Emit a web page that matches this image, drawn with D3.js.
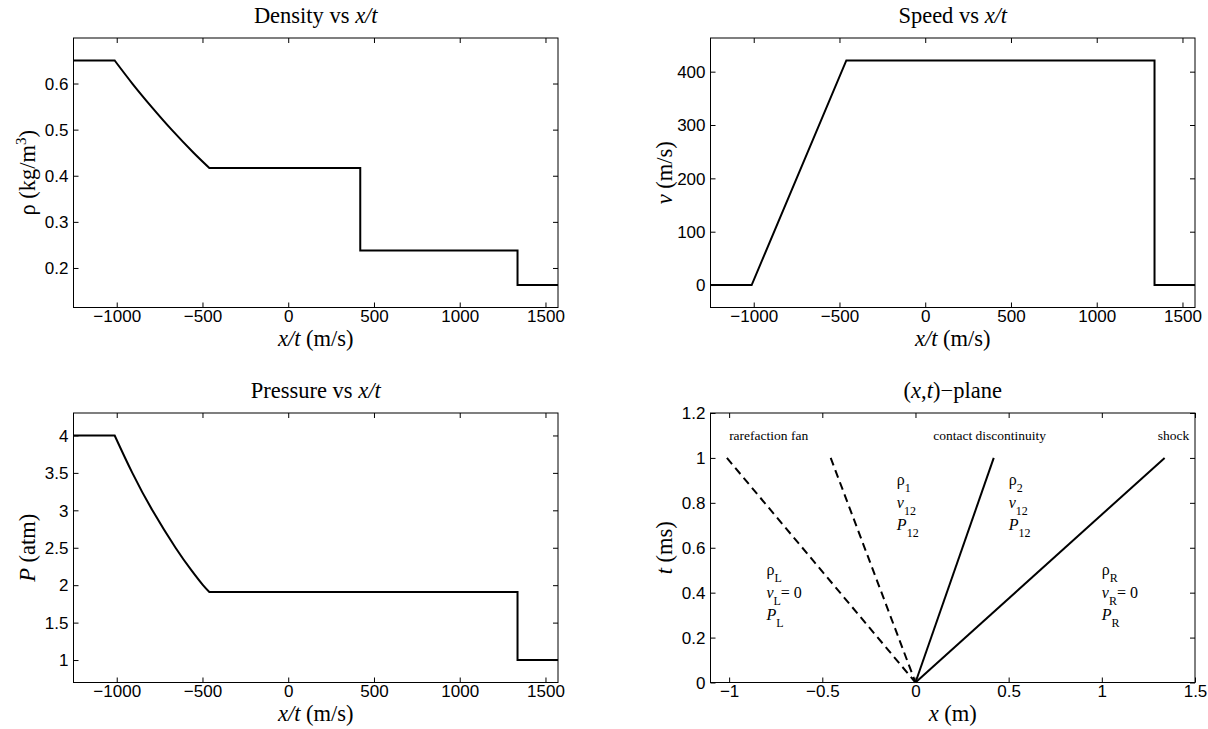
<!DOCTYPE html>
<html>
<head>
<meta charset="utf-8">
<script src="https://cdn.jsdelivr.net/npm/d3@7"></script>
<style>
  body { margin: 0; background: #fff; }
  svg { display: block; }
  .tick text { font-family: "Liberation Sans", Arial, Helvetica, sans-serif; font-size: 17px; fill: #000; }
  .tick line { stroke: #000; stroke-width: 1; }
  .serif { font-family: "Liberation Serif", "Times New Roman", Times, serif; fill: #000; }
</style>
</head>
<body>
<svg id="fig" width="1208" height="729"></svg>
<script>
// ---- data ----
// self-similar coordinate x/t in m/s
var xiRange = [-1252, 1573];
var xiTicks = [-1000, -500, 0, 500, 1000, 1500];

// density (points 1..6 lie on the rarefaction fan)
var rhoXi  = [-1252, -1012, -909, -798, -680, -552, -460, 420, 420, 1337, 1337, 1573];
var rhoVal = [0.65, 0.65, 0.60, 0.55, 0.50, 0.45, 0.417, 0.417, 0.238, 0.238, 0.163, 0.163];
var rhoFan = [1, 6];
var rhoTicks = [0.2, 0.3, 0.4, 0.5, 0.6];

// speed
var velXi  = [-1252, -1012, -460, 1337, 1337, 1573];
var velVal = [0, 0, 421, 421, 0, 0];
var velFan = [1, 2];
var velTicks = [0, 100, 200, 300, 400];

// pressure (points 1..7 lie on the rarefaction fan)
var presXi  = [-1252, -1012, -909, -792, -657, -565, -497, -460, 1337, 1337, 1573];
var presVal = [4.0, 4.0, 3.5, 3.0, 2.5, 2.2, 2.0, 1.91, 1.91, 1.0, 1.0];
var presFan = [1, 7];
var presTicks = [1, 1.5, 2, 2.5, 3, 3.5, 4];

// (x,t)-plane: wave positions (m) at t = 1 ms
var waveX      = [-1.012, -0.455, 0.42, 1.337];
var waveDashed = [true, true, false, false];
var planeXTicks = [-1, -0.5, 0, 0.5, 1, 1.5];
var planeTTicks = [0, 0.2, 0.4, 0.6, 0.8, 1, 1.2];

// wave names and region state labels (x in m, t in ms)
var waveNames = ["rarefaction fan", "contact discontinuity", "shock"];
var waveNameX = [-1.0, 0.095, 1.3];
var stateX    = [-0.8, -0.1, 0.5, 1.0];
var stateT    = [[0.5, 0.4, 0.3], [0.9, 0.8, 0.7], [0.9, 0.8, 0.7], [0.5, 0.4, 0.3]];
var stateSubs = [["L", "L", "L"], ["1", "12", "12"], ["2", "12", "12"], ["R", "R", "R"]];
var stateTail = [["", "= 0", ""], ["", "", ""], ["", "", ""], ["", "= 0", ""]];

// ---- layout ----
var svg = d3.select("#fig");
var W = 484.5, H = 269.5;
var colLeft = [73.5, 710.5], rowTop = [38, 413];
var labelSize = "22.5px";

function fmt(d) { return String(d).replace("-", "\u2212"); }

function richText(sel, parts) {
  parts.forEach(function(p) {
    var t = sel.append("tspan").text(p[0]);
    if (p[1] === "i") t.style("font-style", "italic");
    if (p[2]) t.attr("dy", p[2]);
    if (p[3]) t.style("font-size", p[3]);
  });
  return sel;
}

function panel(col, row, xDom, yDom, xTicks, yTicks) {
  var g = svg.append("g").attr("transform", "translate(" + colLeft[col] + "," + rowTop[row] + ")");
  var x = d3.scaleLinear().domain(xDom).range([0, W]);
  var y = d3.scaleLinear().domain(yDom).range([H, 0]);

  g.append("g").attr("transform", "translate(0," + H + ")")
    .call(d3.axisBottom(x).tickValues(xTicks).tickSize(-5).tickPadding(9).tickFormat(fmt));
  g.append("g")
    .call(d3.axisTop(x).tickValues(xTicks).tickSize(-5).tickFormat(""));
  g.append("g")
    .call(d3.axisLeft(y).tickValues(yTicks).tickSize(-5).tickPadding(5).tickFormat(fmt));
  g.append("g").attr("transform", "translate(" + W + ",0)")
    .call(d3.axisRight(y).tickValues(yTicks).tickSize(-5).tickFormat(""));
  g.selectAll(".domain").remove();

  g.append("rect").attr("width", W).attr("height", H)
    .attr("fill", "none").attr("stroke", "#000").attr("stroke-width", 1);
  return { g: g, x: x, y: y };
}

function title(p, parts) {
  richText(p.g.append("text").attr("class", "serif")
    .attr("x", W / 2).attr("y", -15.5).attr("text-anchor", "middle")
    .style("font-size", labelSize), parts);
}
function xlabel(p, parts) {
  richText(p.g.append("text").attr("class", "serif")
    .attr("x", W / 2).attr("y", H + 38).attr("text-anchor", "middle")
    .style("font-size", labelSize), parts);
}
function ylabel(p, parts) {
  richText(p.g.append("text").attr("class", "serif")
    .attr("transform", "translate(-39," + (H / 2) + ") rotate(-90)")
    .attr("text-anchor", "middle")
    .style("font-size", labelSize), parts);
}

function pad(vals) {
  var lo = d3.min(vals), hi = d3.max(vals), r = hi - lo;
  return [lo - 0.1 * r, hi + 0.1 * r];
}

// straight segments, but the rarefaction fan part drawn as a smooth curve
function curve(p, xs, ys, fan) {
  var pts = d3.zip(xs, ys);
  var lin = d3.line().x(function(d) { return p.x(d[0]); }).y(function(d) { return p.y(d[1]); });
  var smooth = d3.line().curve(d3.curveNatural)
    .x(function(d) { return p.x(d[0]); }).y(function(d) { return p.y(d[1]); });
  var d = lin(pts.slice(0, fan[0] + 1)) +
    smooth(pts.slice(fan[0], fan[1] + 1)).replace(/^M/, "L") +
    lin(pts.slice(fan[1])).replace(/^M/, "L");
  p.g.append("path").attr("d", d)
    .attr("fill", "none").attr("stroke", "#000")
    .attr("stroke-width", 2).attr("stroke-linejoin", "miter");
}

// tick label vertical placement
function fixTicks(p) {
  p.g.selectAll("g").each(function() {
    var ax = d3.select(this);
    var tr = ax.attr("transform") || "";
    ax.selectAll(".tick text").attr("dy", tr.indexOf("translate(0," + H + ")") === 0 ? "0.71em" : "0.34em");
  });
}

// Density
var p1 = panel(0, 0, xiRange, pad(rhoVal), xiTicks, rhoTicks);
fixTicks(p1);
curve(p1, rhoXi, rhoVal, rhoFan);
title(p1, [["Density vs "], ["x/t", "i"]]);
xlabel(p1, [["x/t", "i"], [" (m/s)"]]);
ylabel(p1, [["\u03c1 (kg/m"], ["3", "", "-9", "15px"], [")", "", "9"]]);

// Speed
var p2 = panel(1, 0, xiRange, pad(velVal), xiTicks, velTicks);
fixTicks(p2);
curve(p2, velXi, velVal, velFan);
title(p2, [["Speed vs "], ["x/t", "i"]]);
xlabel(p2, [["x/t", "i"], [" (m/s)"]]);
ylabel(p2, [["v", "i"], [" (m/s)"]]);

// Pressure
var p3 = panel(0, 1, xiRange, pad(presVal), xiTicks, presTicks);
fixTicks(p3);
curve(p3, presXi, presVal, presFan);
title(p3, [["Pressure vs "], ["x/t", "i"]]);
xlabel(p3, [["x/t", "i"], [" (m/s)"]]);
ylabel(p3, [["P", "i"], [" (atm)"]]);

// (x,t)-plane
var p4 = panel(1, 1, [-1.1, 1.5], [0, 1.2], planeXTicks, planeTTicks);
fixTicks(p4);
var waveLine = d3.line().x(function(d) { return p4.x(d[0]); }).y(function(d) { return p4.y(d[1]); });
waveX.forEach(function(wx, i) {
  p4.g.append("path").datum([[wx, 1], [0, 0]])
    .attr("d", waveLine).attr("fill", "none").attr("stroke", "#000")
    .attr("stroke-width", 2)
    .attr("stroke-dasharray", waveDashed[i] ? "8,5" : null);
});
title(p4, [["("], ["x", "i"], [","], ["t", "i"], [")\u2212plane"]]);
xlabel(p4, [["x", "i"], [" (m)"]]);
ylabel(p4, [["t", "i"], [" (ms)"]]);

waveNames.forEach(function(name, i) {
  p4.g.append("text").attr("class", "serif")
    .attr("x", p4.x(waveNameX[i])).attr("y", p4.y(1.1) + 4.5)
    .style("font-size", "13.5px").text(name);
});

var stateMain = [["\u03c1", ""], ["v", "i"], ["P", "i"]];
stateX.forEach(function(sx, i) {
  stateMain.forEach(function(m, k) {
    var t = p4.g.append("text").attr("class", "serif")
      .attr("x", p4.x(sx)).attr("y", p4.y(stateT[i][k]) + 5)
      .style("font-size", "16px");
    var parts = [[m[0], m[1]], [stateSubs[i][k], "", "7", "12px"]];
    if (stateTail[i][k]) parts.push([stateTail[i][k], "", "-7", "16px"]);
    richText(t, parts);
  });
});
</script>
</body>
</html>
